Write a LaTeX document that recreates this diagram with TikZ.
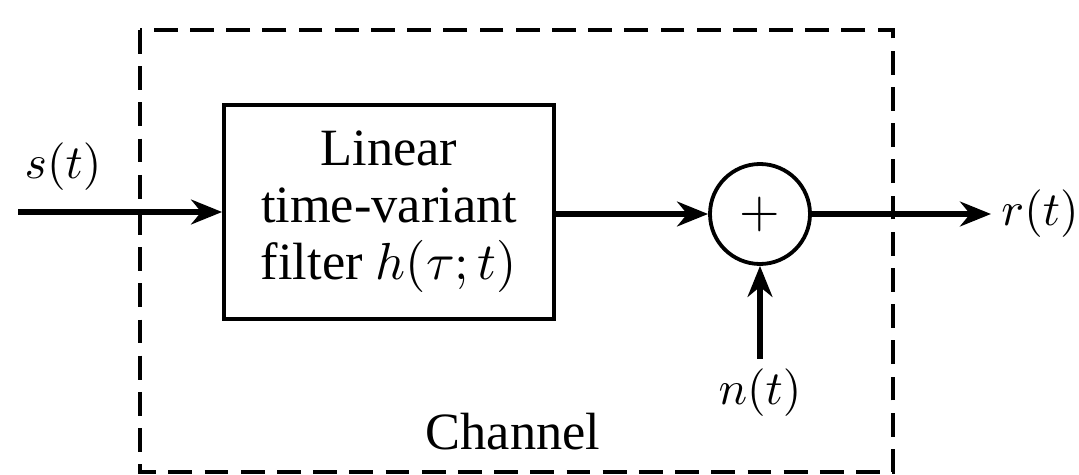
\documentclass[tikz,border=0pt]{standalone}
\usepackage{fontspec}
\setmainfont{Liberation Serif}
\usetikzlibrary{arrows.meta,positioning,shapes.geometric}

\begin{document}
\begin{tikzpicture}[
  x=0.21pt, y=-0.21pt,
  font=\fontsize{11}{12}\selectfont,
  block/.style={draw, line width=0.8pt, align=center, minimum width=69.3pt, minimum height=45pt, inner sep=0pt},
  adder/.style={draw, circle, line width=0.8pt, minimum size=21pt, inner sep=0pt},
  chan/.style={line width=0.7pt, dash pattern=on 5pt off 2.6pt},
  lbl/.style={inner sep=2pt, font=\fontsize{10}{12}\selectfont},
  arr/.style={-{Stealth[length=6.5pt,width=5.2pt]}, line width=1.1pt}
]
\useasboundingbox (0,0) rectangle (1079,475);
% channel boundary
\draw[chan] (140,30) rectangle (893,472);
\node at (513,432) (chan) {Channel};
% blocks
\node[block] at (389,212) (filter) {Linear\\time-variant\\filter $h(\tau;t)$};
\node[adder] at (760,214) (sum) {$+$};
% signals
\coordinate (sin) at (18,212);
\node[lbl] at (63,167) (st) {$s(t)$};
\node[lbl] at (1040,214) (rt) {$r(t)$};
\node[lbl] at (760,393) (nt) {$n(t)$};
\draw[arr] (sin) -- (filter);
\draw[arr] (filter.east |- sum.west) -- (sum);
\draw[arr] (sum) -- (rt);
\draw[arr] (nt) -- (sum);
\end{tikzpicture}
\end{document}
